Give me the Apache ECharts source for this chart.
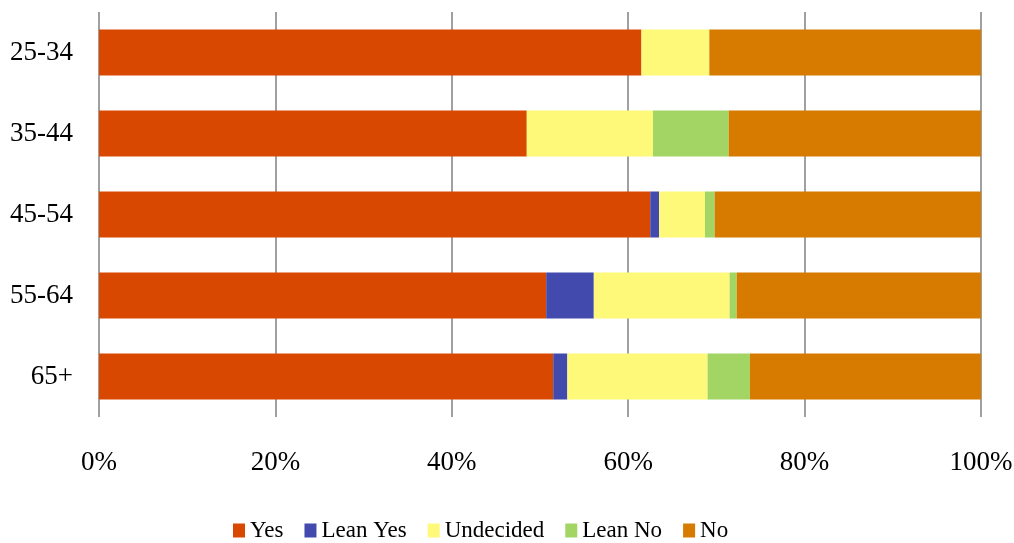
<!DOCTYPE html>
<html>
<head>
<meta charset="utf-8">
<script src="https://cdn.jsdelivr.net/npm/echarts@6/dist/echarts.min.js"></script>
<style>html,body{margin:0;padding:0;background:#fff;}#c{width:1014px;height:543px;}</style>
</head>
<body>
<div id="c"></div>
<script>
var categories = ['25-34', '35-44', '45-54', '55-64', '65+'];
var seriesNames = ['Yes', 'Lean Yes', 'Undecided', 'Lean No', 'No'];
var yesVals = [61.5, 48.5, 62.5, 50.7, 51.5];
var leanYesVals = [0, 0, 1.0, 5.4, 1.6];
var undecidedVals = [7.7, 14.3, 5.2, 15.4, 15.9];
var leanNoVals = [0, 8.6, 1.1, 0.8, 4.8];
var noVals = [30.8, 28.6, 30.2, 27.7, 26.2];
var xTicks = [0, 20, 40, 60, 80, 100];
var colors = ['#D94800', '#434AAD', '#FEF979', '#A2D564', '#D67A00'];

var allVals = [yesVals, leanYesVals, undecidedVals, leanNoVals, noVals];
var font = '"Liberation Serif", "Times New Roman", serif';
var series = seriesNames.map(function (n, i) {
  return {
    name: n,
    type: 'bar',
    stack: 'total',
    barWidth: 46,
    data: allVals[i],
    itemStyle: { color: colors[i] }
  };
});

var chart = echarts.init(document.getElementById('c'));
chart.setOption({
  animation: false,
  color: colors,
  grid: { left: 99, right: 33, top: 12, bottom: 126, containLabel: false, outerBoundsMode: 'none' },
  legend: {
    data: seriesNames,
    left: 228,
    top: 514,
    itemWidth: 12,
    itemHeight: 14,
    itemGap: 21,
    icon: 'rect',
    textStyle: { fontFamily: font, fontSize: 23, color: '#000' }
  },
  xAxis: {
    type: 'value',
    min: 0,
    max: 100,
    interval: 20,
    axisLine: { show: false },
    axisTick: { show: false },
    splitLine: { show: true, lineStyle: { color: '#A0A0A0', width: 2 } },
    axisLabel: {
      formatter: function (v) { return xTicks.indexOf(v) >= 0 ? v + '%' : ''; },
      fontFamily: font, fontSize: 27, color: '#000', margin: 32
    }
  },
  yAxis: {
    type: 'category',
    data: categories,
    inverse: true,
    axisLine: { show: false },
    axisTick: { show: false },
    axisLabel: { fontFamily: font, fontSize: 27, color: '#000', margin: 26 }
  },
  series: series
});
</script>
</body>
</html>
